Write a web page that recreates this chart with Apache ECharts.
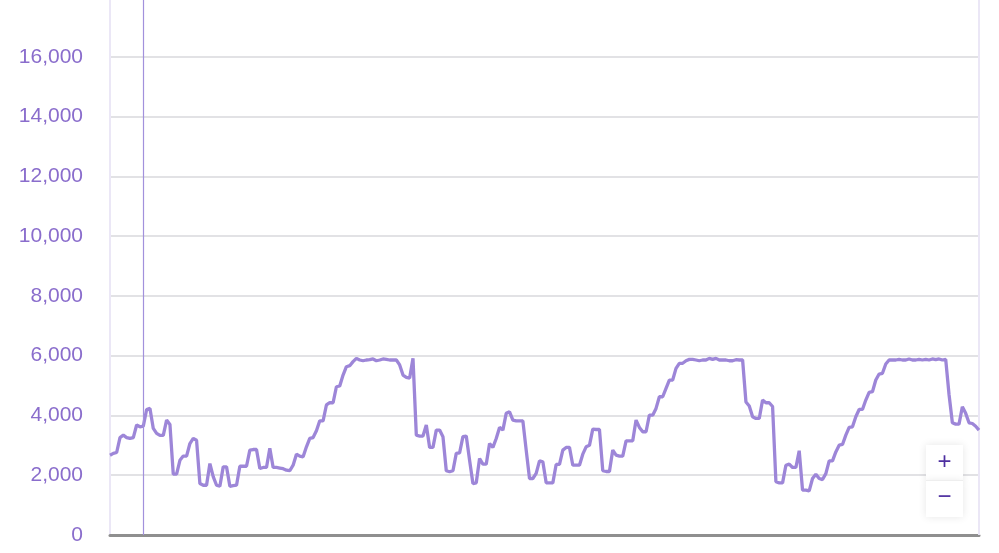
<!DOCTYPE html>
<html>
<head>
<meta charset="utf-8">
<script src="https://cdn.jsdelivr.net/npm/echarts@6/dist/echarts.min.js"></script>
<style>
html,body{margin:0;padding:0;background:#fff;overflow:hidden;}
#chart{width:999px;height:556px;position:absolute;left:0;top:-3px;}
</style>
</head>
<body>
<div id="chart"></div>
<script>
// Series values (one per time step)
const values = [
  2670, 2730, 2760, 3260, 3340, 3260, 3230, 3260, 3680, 3620,
  3640, 4200, 4235, 3565, 3400, 3330, 3330, 3845, 3700, 2040,
  2040, 2500, 2640, 2640, 3060, 3230, 3170, 1720, 1665, 1665,
  2390, 1950, 1665, 1630, 2280, 2280, 1630, 1650, 1665, 2300,
  2300, 2300, 2840, 2860, 2860, 2225, 2260, 2260, 2900, 2260,
  2260, 2240, 2220, 2170, 2150, 2335, 2705, 2640, 2615, 2950,
  3230, 3260, 3490, 3820, 3820, 4350, 4425, 4425, 4960, 4985,
  5350, 5630, 5665, 5800, 5910, 5855, 5830, 5855, 5865, 5890,
  5830, 5855, 5890, 5875, 5855, 5855, 5855, 5690, 5350, 5275,
  5250, 5910, 3340, 3310, 3310, 3680, 2930, 2930, 3510, 3510,
  3290, 2150, 2115, 2150, 2730, 2750, 3290, 3310, 2500, 1720,
  1745, 2560, 2370, 2370, 3060, 2930, 3230, 3600, 3510, 4070,
  4120, 3845, 3820, 3820, 3820, 2840, 1890, 1890, 2060, 2480,
  2450, 1745, 1745, 1745, 2360, 2360, 2840, 2930, 2930, 2335,
  2335, 2335, 2705, 2950, 3000, 3540, 3530, 3530, 2150, 2125,
  2125, 2840, 2670, 2640, 2640, 3150, 3150, 3150, 3845, 3600,
  3455, 3455, 4010, 4010, 4235, 4625, 4625, 4905, 5185, 5185,
  5575, 5745, 5745, 5830, 5875, 5875, 5855, 5830, 5855, 5855,
  5910, 5875, 5910, 5855, 5855, 5855, 5830, 5830, 5865, 5855,
  5855, 4450, 4315, 3955, 3900, 3900, 4515, 4425, 4425, 4300,
  1780, 1745, 1745, 2335, 2370, 2260, 2260, 2820, 1500, 1500,
  1475, 1890, 2035, 1890, 1855, 2055, 2480, 2480, 2780, 3005,
  3030, 3340, 3600, 3620, 3955, 4200, 4200, 4515, 4770, 4795,
  5185, 5385, 5410, 5720, 5855, 5855, 5855, 5875, 5855, 5855,
  5890, 5855, 5855, 5875, 5855, 5875, 5855, 5890, 5865, 5890,
  5855, 5875, 4700, 3755, 3710, 3710, 4290, 4070, 3755, 3730,
  3640, 3510
];
// Category labels: time-step index
const steps = values.map((_, i) => String(i));
// Highlighted step (vertical marker)
const markerStep = '10';
// Y axis range
const yMin = 0, yMax = 18000, yInterval = 2000;

const chart = echarts.init(document.getElementById('chart'), null, {renderer: 'canvas'});
const option = {
  animation: false,
  backgroundColor: '#ffffff',
  grid: {left: 110, right: 20, top: 0, bottom: 18, containLabel: false},
  xAxis: {
    type: 'category',
    data: steps,
    boundaryGap: false,
    axisLine: {show: true, lineStyle: {color: '#8f8f8f', width: 3}},
    axisTick: {show: false},
    axisLabel: {show: false},
    splitLine: {show: false}
  },
  yAxis: {
    type: 'value',
    min: yMin, max: yMax, interval: yInterval,
    axisLine: {show: true, lineStyle: {color: '#ebe7f6', width: 2}},
    axisTick: {show: false},
    axisLabel: {
      color: '#8a6dcc',
      fontSize: 21,
      fontFamily: 'Liberation Sans, Arial, sans-serif',
      margin: 27,
      formatter: v => v === yMax ? '' : v.toLocaleString('en-US')
    },
    splitLine: {show: true, lineStyle: {color: '#d9d9dd', width: 1.5}}
  },
  series: [{
    type: 'line',
    data: values,
    symbol: 'none',
    smooth: false,
    lineStyle: {color: '#9d86d8', width: 3.3},
    itemStyle: {color: '#9d86d8'},
    markLine: {
      silent: true,
      symbol: 'none',
      label: {show: false},
      lineStyle: {color: '#a291dc', width: 1.2, type: 'solid'},
      data: [{xAxis: markerStep}]
    }
  }],
  graphic: [
    {type: 'line', shape: {x1: 979, y1: 0, x2: 979, y2: 538}, style: {stroke: '#ebe7f6', lineWidth: 2}, z: 1},
    {type: 'rect', shape: {x: 926, y: 448, width: 37, height: 35}, style: {fill: '#ffffff', shadowBlur: 8, shadowColor: 'rgba(0,0,0,0.10)'}, z: 10},
    {type: 'rect', shape: {x: 926, y: 484, width: 37, height: 36}, style: {fill: '#ffffff', shadowBlur: 8, shadowColor: 'rgba(0,0,0,0.10)'}, z: 10},
    {type: 'line', shape: {x1: 926, y1: 483.5, x2: 963, y2: 483.5}, style: {stroke: '#eeeeee', lineWidth: 1}, z: 11},
    {type: 'text', x: 944.5, y: 465.5, style: {text: '+', fill: '#4e2fa0', font: '24px Liberation Sans, Arial, sans-serif', align: 'center', verticalAlign: 'middle'}, z: 12},
    {type: 'text', x: 944.5, y: 500, style: {text: '\u2212', fill: '#4e2fa0', font: '24px Liberation Sans, Arial, sans-serif', align: 'center', verticalAlign: 'middle'}, z: 12}
  ]
};
chart.setOption(option);
</script>
</body>
</html>
